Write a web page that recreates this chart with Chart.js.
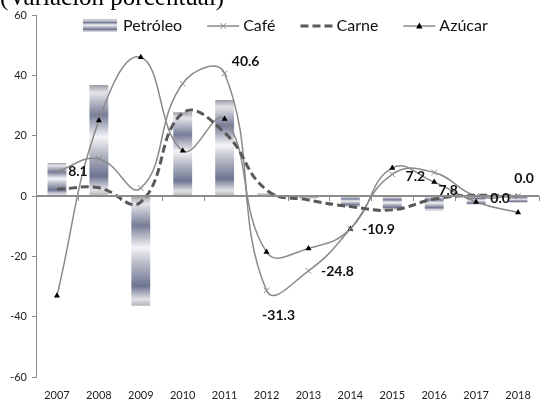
<!DOCTYPE html>
<html>
<head>
<meta charset="utf-8">
<script src="https://cdn.jsdelivr.net/npm/chart.js@4"></script>
<style>
  html, body { margin: 0; padding: 0; background: #fff; overflow: hidden; }
  #wrap { position: relative; width: 544px; height: 402px; }
</style>
</head>
<body>
<div id="wrap"><canvas id="chart" width="544" height="402"></canvas></div>
<script>
// Variación porcentual anual de precios de materias primas
const years = ["2007", "2008", "2009", "2010", "2011", "2012", "2013", "2014", "2015", "2016", "2017", "2018"];
const petroleo = [10.9, 36.8, -36.4, 27.8, 31.8, 0.8, -0.8, -3.6, -4.6, -4.8, -3.0, -2.2];
const cafe = [8.1, 12.3, 2.6, 37.3, 40.6, -31.3, -24.8, -10.9, 7.2, 7.8, 0.0, 0.0];
const carne = [2.2, 2.7, -2.0, 27.5, 21.0, 2.0, -1.3, -3.5, -4.6, -1.0, 0.2, 0.0];
const azucar = [-33.1, 25.0, 46.0, 15.0, 25.5, -18.6, -17.4, -10.9, 9.3, 4.6, -2.0, -5.5];
const yTicks = [-60, -40, -20, 0, 20, 40, 60];

// which café points get a value label, and where it sits relative to the point
const cafeLabelShift = [[21, 0], null, null, null, [21, -12], [12, 25], [29, 1], [28, 1], [23, 2], [14, 18], [24, 2], [6, -18]];

const fontFamily = "Lato, 'Open Sans', sans-serif";
const lineGray = "#8a8a8a";
const axisGray = "#8c8c8c";

function metalGradient(ctx, top, bottom) {
  const g = ctx.createLinearGradient(0, top, 0, bottom);
  g.addColorStop(0, "#9c9ca4");
  g.addColorStop(0.07, "#e4e4e8");
  g.addColorStop(0.27, "#777d97");
  g.addColorStop(0.47, "#f4f4f6");
  g.addColorStop(0.62, "#b6b9c5");
  g.addColorStop(0.82, "#6e7491");
  g.addColorStop(0.94, "#e2e2e6");
  g.addColorStop(1, "#b4b4bc");
  return g;
}

// zero line with category tick marks, title, legend, café value labels
const decorations = {
  id: "decorations",
  beforeDatasetsDraw(chart) {
    const { ctx, scales } = chart;
    const y0 = scales.y.getPixelForValue(0);
    const x = scales.x;
    ctx.save();
    ctx.strokeStyle = axisGray;
    ctx.lineWidth = 1;
    for (let i = 0; i <= years.length; i++) {
      const px = Math.round(x.getPixelForValue(i - 0.5)) + 0.5;
      ctx.beginPath();
      ctx.moveTo(px, y0);
      ctx.lineTo(px, y0 + 5);
      ctx.stroke();
    }
    ctx.restore();
  },
  afterDatasetsDraw(chart) {
    const { ctx, chartArea, scales } = chart;
    const y0 = scales.y.getPixelForValue(0);
    ctx.save();
    ctx.strokeStyle = axisGray;
    ctx.lineWidth = 2;
    ctx.beginPath();
    ctx.moveTo(chartArea.left, y0);
    ctx.lineTo(chartArea.right, y0);
    ctx.stroke();

    // value labels on the café series
    const meta = chart.getDatasetMeta(1);
    ctx.font = "bold 14px " + fontFamily;
    ctx.fillStyle = "#111";
    ctx.textAlign = "center";
    ctx.textBaseline = "middle";
    cafe.forEach((v, i) => {
      const shift = cafeLabelShift[i];
      if (!shift) return;
      const pt = meta.data[i];
      ctx.fillText(v.toFixed(1), pt.x + shift[0], pt.y + shift[1]);
    });
    ctx.restore();
  },
  afterDraw(chart) {
    const { ctx } = chart;
    ctx.save();
    // title, cut by the top edge
    ctx.font = "25px 'Liberation Serif', 'Times New Roman', serif";
    ctx.fillStyle = "#000";
    ctx.textAlign = "left";
    ctx.textBaseline = "alphabetic";
    ctx.fillText("(Variación porcentual)", 0, 5);

    // legend
    const ly = 26;
    let lx = 83;
    ctx.font = "16px " + fontFamily;
    ctx.textBaseline = "middle";
    const items = [
      { label: "Petróleo", kind: "bar" },
      { label: "Café", kind: "cross" },
      { label: "Carne", kind: "dash" },
      { label: "Azúcar", kind: "triangle" },
    ];
    items.forEach((it) => {
      if (it.kind === "bar") {
        ctx.fillStyle = metalGradient(ctx, ly - 7, ly + 6);
        ctx.fillRect(lx, ly - 7, 34, 13);
        lx += 40;
      } else {
        ctx.beginPath();
        if (it.kind === "dash") {
          ctx.strokeStyle = "#595959";
          ctx.lineWidth = 3;
          ctx.setLineDash([8, 4]);
        } else {
          ctx.strokeStyle = lineGray;
          ctx.lineWidth = 1.5;
          ctx.setLineDash([]);
        }
        ctx.moveTo(lx, ly);
        ctx.lineTo(lx + 32, ly);
        ctx.stroke();
        ctx.setLineDash([]);
        const mx = lx + 16;
        if (it.kind === "cross") {
          ctx.strokeStyle = lineGray;
          ctx.lineWidth = 1;
          ctx.beginPath();
          ctx.moveTo(mx - 3, ly - 3); ctx.lineTo(mx + 3, ly + 3);
          ctx.moveTo(mx + 3, ly - 3); ctx.lineTo(mx - 3, ly + 3);
          ctx.stroke();
        } else if (it.kind === "triangle") {
          ctx.fillStyle = "#000";
          ctx.beginPath();
          ctx.moveTo(mx, ly - 3.5);
          ctx.lineTo(mx + 3.2, ly + 2.5);
          ctx.lineTo(mx - 3.2, ly + 2.5);
          ctx.closePath();
          ctx.fill();
        }
        lx += 36;
      }
      ctx.fillStyle = "#111";
      ctx.fillText(it.label, lx, ly);
      lx += ctx.measureText(it.label).width + 25;
    });
    ctx.restore();
  },
};

new Chart(document.getElementById("chart"), {
  data: {
    labels: years,
    datasets: [
      {
        type: "bar",
        label: "Petróleo",
        data: petroleo,
        order: 5,
        barPercentage: 0.45,
        categoryPercentage: 1,
        borderWidth: 0,
        backgroundColor: (c) => {
          const chart = c.chart;
          if (!chart.chartArea || !chart.scales.y || c.parsed === undefined) return "#9a9eae";
          const yScale = chart.scales.y;
          const a = yScale.getPixelForValue(0);
          const b = yScale.getPixelForValue(c.parsed.y);
          return metalGradient(chart.ctx, Math.min(a, b), Math.max(a, b));
        },
      },
      {
        type: "line",
        label: "Café",
        data: cafe,
        order: 2,
        borderColor: lineGray,
        borderWidth: 1.5,
        tension: 0.45,
        pointStyle: "crossRot",
        pointRadius: 4,
        pointBorderColor: lineGray,
        pointBorderWidth: 1,
        fill: false,
      },
      {
        type: "line",
        label: "Carne",
        data: carne,
        order: 1,
        borderColor: "#595959",
        borderWidth: 3,
        borderDash: [8, 4],
        tension: 0.45,
        pointRadius: 0,
        fill: false,
      },
      {
        type: "line",
        label: "Azúcar",
        data: azucar,
        order: 3,
        borderColor: lineGray,
        borderWidth: 1.5,
        tension: 0.45,
        pointStyle: "triangle",
        pointRadius: 3.5,
        pointBackgroundColor: "#000",
        pointBorderColor: "#000",
        pointBorderWidth: 0,
        fill: false,
      },
    ],
  },
  options: {
    responsive: false,
    animation: false,
    layout: { padding: { top: 15, right: 0, left: 0, bottom: 0 } },
    plugins: {
      legend: { display: false },
      tooltip: { enabled: false },
    },
    scales: {
      x: {
        offset: true,
        grid: { display: false },
        border: { display: false },
        ticks: { color: "#222", font: { family: fontFamily, size: 11 }, padding: 4, maxRotation: 0 },
        afterFit: (s) => { s.height = 25; },
      },
      y: {
        min: -60,
        max: 60,
        afterBuildTicks: (s) => { s.ticks = yTicks.map((v) => ({ value: v })); },
        grid: { drawOnChartArea: false, drawTicks: true, tickLength: 4, color: axisGray },
        border: { display: true, color: axisGray, width: 1 },
        ticks: { color: "#222", font: { family: fontFamily, size: 11 }, padding: 5 },
        afterFit: (s) => { s.width = 36; },
      },
    },
  },
  plugins: [decorations],
});
</script>
</body>
</html>
